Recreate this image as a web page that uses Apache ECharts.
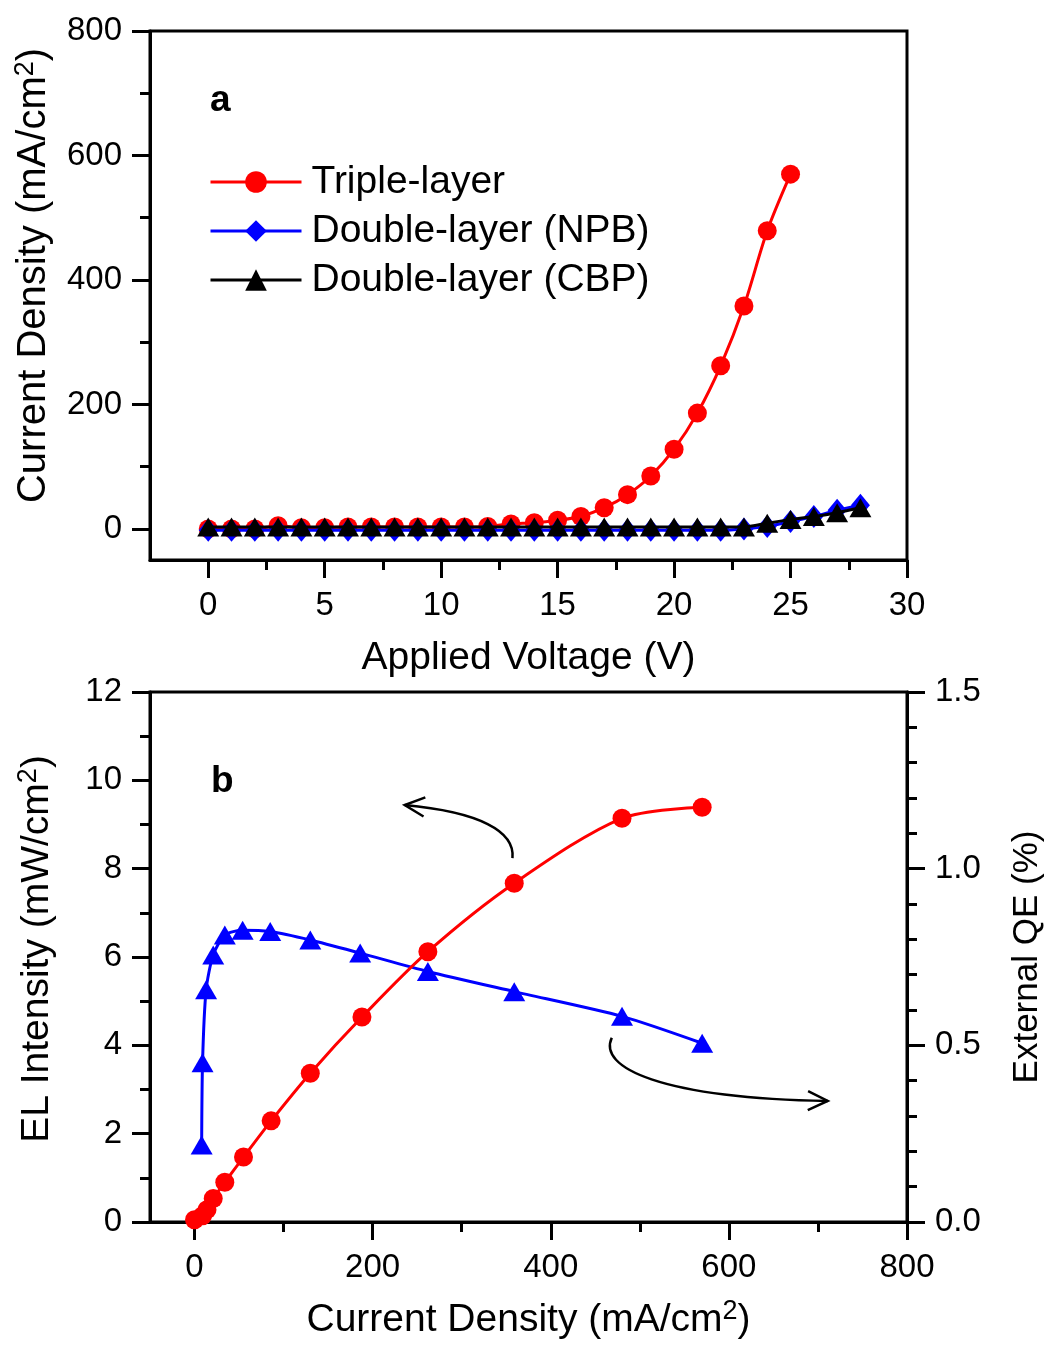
<!DOCTYPE html>
<html>
<head>
<meta charset="utf-8">
<script src="https://cdn.jsdelivr.net/npm/echarts@6/dist/echarts.min.js"></script>
<style>
html,body{margin:0;padding:0;background:#fff;}
#c{width:1048px;height:1349px;}
</style>
</head>
<body>
<div id="c"></div>
<script>
// ---------- Panel a data ----------
const voltageTriple = [0,1,2,3,4,5,6,7,8,9,10,11,12,13,14,15,16,17,18,19,20,21,22,23,24,25];
const jTriple = [0,0,0,5,2,2,3,3,3,3,3,3,4,8,10,14,20,34,55,85,128,186,262,358,479,570];
const voltageDouble = [0,1,2,3,4,5,6,7,8,9,10,11,12,13,14,15,16,17,18,19,20,21,22,23,24,25,26,27,28];
const jNPB = [-2,-2,-2,-2,-2,-2,-2,-2,-2,-2,-2,-2,-2,-2,-2,-2,-2,-2,-2,-2,-2,-2,-2,0,4,12,20,30,38];
const jCBP = [3,3,3,3,3,3,3,3,3,3,3,3,3,3,3,3,3,3,3,3,3,3,3,3,9,15,20,26,34];

// ---------- Panel b data ----------
const elJ = [0,9,14,21,34,55,86,130,188,262,359,480,570];
const elIntensity = [0.05,0.14,0.28,0.53,0.9,1.47,2.29,3.37,4.64,6.12,7.67,9.14,9.39];
const qeJ = [8,9,13,21,34,54,85,130,186,262,359,480,570];
const qeValues = [0.218,0.451,0.657,0.756,0.812,0.826,0.822,0.798,0.761,0.709,0.652,0.582,0.506];

// ---------- tick values ----------
const aXLabels = [0,5,10,15,20,25,30];
const aXMinor = [2.5,7.5,12.5,17.5,22.5,27.5];
const aYLabels = [0,200,400,600,800];
const aYMinor = [100,300,500,700];
const bXLabels = [0,200,400,600,800];
const bXMinor = [100,300,500,700];

// ---------- annotation arrows (panel b data coords) ----------
const arrowUp = [[357,8.24],[360,8.85],[320,9.28],[236,9.44]];
const arrowDown = [[468.5,4.17],[452.8,3.5],[522.5,2.81],[711,2.74]];

const FONT = 'Liberation Sans, Arial, sans-serif';
const TICK_FS = 33, NAME_FS = 39;

function zip(xs, ys){ return xs.map((x,i)=>[x, ys[i]]); }

const axisLine = {show:true, onZero:false, lineStyle:{color:'#000', width:3}};
const labelStyle = {color:'#000', fontSize:TICK_FS, fontFamily:FONT};
function nameStyle(fs, pad){
  return {color:'#000', fontSize:fs, fontFamily:FONT, lineHeight:44, padding:pad || 0,
    rich:{sup:{fontSize:27, lineHeight:22, verticalAlign:'top', fontFamily:FONT, color:'#000'}}};
}

function minorAxis(extra){
  return Object.assign({
    type:'value', axisLine:{show:false, onZero:false}, axisLabel:{show:false}, splitLine:{show:false}
  }, extra);
}

const chart = echarts.init(document.getElementById('c'), null, {renderer:'canvas'});

const option = {
  backgroundColor:'#fff',
  animation:false,
  grid:[
    {left:150, top:31, width:757, height:529, containLabel:false, outerBoundsMode:'none',
      show:true, borderColor:'#000', borderWidth:3, backgroundColor:'transparent'},
    {left:150, top:692, width:757, height:530, containLabel:false, outerBoundsMode:'none',
      show:true, borderColor:'#000', borderWidth:3, backgroundColor:'transparent'}
  ],
  title:[
    {text:'a', left:210, top:82, padding:0, textStyle:{fontSize:37, fontWeight:'bold', color:'#000', fontFamily:FONT}},
    {text:'b', left:211, top:763, padding:0, textStyle:{fontSize:37, fontWeight:'bold', color:'#000', fontFamily:FONT}}
  ],
  legend:{
    left:209, top:162, padding:0, orient:'vertical', itemWidth:91, itemHeight:27, itemGap:9,
    lineStyle:{width:3},
    textStyle:{fontSize:39, fontFamily:FONT, color:'#000', lineHeight:40, padding:[0,0,0,5]},
    data:['Triple-layer','Double-layer (NPB)','Double-layer (CBP)']
  },
  xAxis:[
    {type:'value', gridIndex:0, min:-2.5, max:30, position:'bottom',
      axisLine:axisLine, splitLine:{show:false},
      axisTick:{show:true, inside:false, length:18, customValues:aXLabels, lineStyle:{color:'#000', width:3}},
      axisLabel:Object.assign({margin:29, customValues:aXLabels}, labelStyle),
      name:'Applied Voltage (V)', nameLocation:'middle', nameGap:76, nameTextStyle:nameStyle(NAME_FS)},
    minorAxis({gridIndex:0, min:-2.5, max:30, position:'bottom',
      axisTick:{show:true, inside:false, length:10, customValues:aXMinor, lineStyle:{color:'#000', width:3}}}),
    {type:'value', gridIndex:1, min:-50, max:800, position:'bottom',
      axisLine:axisLine, splitLine:{show:false},
      axisTick:{show:true, inside:false, length:18, customValues:bXLabels, lineStyle:{color:'#000', width:3}},
      axisLabel:Object.assign({margin:29, customValues:bXLabels}, labelStyle),
      name:'Current Density (mA/cm{sup|2})', nameLocation:'middle', nameGap:76, nameTextStyle:nameStyle(NAME_FS)},
    minorAxis({gridIndex:1, min:-50, max:800, position:'bottom',
      axisTick:{show:true, inside:false, length:10, customValues:bXMinor, lineStyle:{color:'#000', width:3}}})
  ],
  yAxis:[
    {type:'value', gridIndex:0, min:-50, max:800, position:'left',
      axisLine:axisLine, splitLine:{show:false},
      axisTick:{show:true, inside:false, length:18, customValues:aYLabels, lineStyle:{color:'#000', width:3}},
      axisLabel:Object.assign({margin:28, customValues:aYLabels}, labelStyle),
      name:'Current Density (mA/cm{sup|2})', nameLocation:'middle', nameGap:91, nameRotate:90,
      nameTextStyle:nameStyle(40, [0,0,0,40])},
    minorAxis({gridIndex:0, min:-50, max:800, position:'left',
      axisTick:{show:true, inside:false, length:10, customValues:aYMinor, lineStyle:{color:'#000', width:3}}}),
    {type:'value', gridIndex:1, min:0, max:12, interval:2, position:'left',
      axisLine:axisLine, splitLine:{show:false},
      axisTick:{show:true, inside:false, length:18, lineStyle:{color:'#000', width:3}},
      minorTick:{show:true, splitNumber:2, length:10, lineStyle:{color:'#000', width:3}},
      axisLabel:Object.assign({margin:28}, labelStyle),
      name:'EL Intensity (mW/cm{sup|2})', nameLocation:'middle', nameGap:91, nameRotate:90,
      nameTextStyle:nameStyle(NAME_FS, [0,0,0,16])},
    {type:'value', gridIndex:1, min:0, max:1.5, interval:0.5, position:'right',
      axisLine:axisLine, splitLine:{show:false},
      axisTick:{show:true, inside:false, length:18, lineStyle:{color:'#000', width:3}},
      minorTick:{show:true, splitNumber:5, length:10, lineStyle:{color:'#000', width:3}},
      axisLabel:Object.assign({margin:28, formatter:v=>v.toFixed(1)}, labelStyle),
      name:'External QE (%)', nameLocation:'middle', nameGap:98, nameRotate:90, nameTextStyle:nameStyle(35)}
  ],
  series:[
    {name:'Triple-layer', type:'line', xAxisIndex:0, yAxisIndex:0, data:zip(voltageTriple, jTriple),
      smooth:0.3, symbol:'circle', symbolSize:19,
      lineStyle:{color:'#ff0000', width:3}, itemStyle:{color:'#ff0000'}, z:2},
    {name:'Double-layer (NPB)', type:'line', xAxisIndex:0, yAxisIndex:0, data:zip(voltageDouble, jNPB),
      smooth:0.2, symbol:'diamond', symbolSize:[19,23],
      lineStyle:{color:'#0000ff', width:3}, itemStyle:{color:'#0000ff'}, z:3},
    {name:'Double-layer (CBP)', type:'line', xAxisIndex:0, yAxisIndex:0, data:zip(voltageDouble, jCBP),
      smooth:0.2, symbol:'triangle', symbolSize:[22,19],
      lineStyle:{color:'#000000', width:3}, itemStyle:{color:'#000000'}, z:4},
    {name:'EL', type:'line', xAxisIndex:2, yAxisIndex:2, data:zip(elJ, elIntensity),
      smooth:0.3, symbol:'circle', symbolSize:19,
      lineStyle:{color:'#ff0000', width:3}, itemStyle:{color:'#ff0000'}, z:3},
    {name:'EQE', type:'line', xAxisIndex:2, yAxisIndex:3, data:zip(qeJ, qeValues),
      smooth:0.25, symbol:'triangle', symbolSize:[22,19],
      lineStyle:{color:'#0000ff', width:3}, itemStyle:{color:'#0000ff'}, z:2}
  ]
};
chart.setOption(option);

function px(p){ return chart.convertToPixel({xAxisIndex:2, yAxisIndex:2}, p); }
function arrow(pts, id){
  const p = pts.map(px);
  const end = p[3], c2 = p[2];
  const ang = Math.atan2(end[1]-c2[1], end[0]-c2[0]);
  const L = 22, w = 0.45;
  const a1 = [end[0]-L*Math.cos(ang-w), end[1]-L*Math.sin(ang-w)];
  const a2 = [end[0]-L*Math.cos(ang+w), end[1]-L*Math.sin(ang+w)];
  return [
    {type:'bezierCurve', id:id+'c', z:10, shape:{x1:p[0][0], y1:p[0][1], cpx1:p[1][0], cpy1:p[1][1], cpx2:p[2][0], cpy2:p[2][1], x2:end[0], y2:end[1]},
      style:{stroke:'#000', lineWidth:2.5, fill:null}},
    {type:'polyline', id:id+'h', z:10, shape:{points:[a1, end, a2]}, style:{stroke:'#000', lineWidth:2.5, fill:null}}
  ];
}
chart.setOption({graphic:{elements:[].concat(arrow(arrowUp,'up'), arrow(arrowDown,'down'))}});
</script>
</body>
</html>
